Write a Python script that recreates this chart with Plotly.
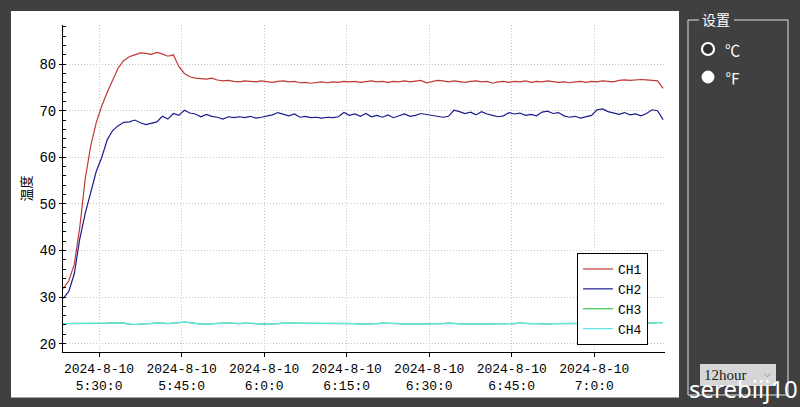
import pandas as pd
import plotly.graph_objects as go

# one sample per minute, 5:23:30 .. 7:12:30
times = pd.date_range("2024-08-10 05:23:30", periods=110, freq="1min")

ch1 = [31.8, 33.5, 37.0, 45.0, 55.5, 62.5, 67.5, 71.0, 74.0, 76.8,
       79.2, 80.8, 81.6, 82.0, 82.4, 82.3, 82.1, 82.5, 82.2, 81.7,
       82.0, 79.5, 78.0, 77.3, 77.0, 76.9, 76.8, 77.0, 76.6, 76.4,
       76.5, 76.3, 76.2, 76.4, 76.3, 76.2, 76.4, 76.3, 76.1, 76.3,
       76.4, 76.2, 76.3, 76.0, 76.1, 75.9, 76.1, 76.2, 76.0, 76.2,
       76.1, 76.3, 76.2, 76.3, 76.1, 76.2, 76.4, 76.2, 76.3, 76.1,
       76.3, 76.2, 76.4, 76.2, 76.3, 76.5, 76.0, 76.3, 76.5, 76.4,
       76.2, 76.4, 76.3, 76.1, 76.3, 76.4, 76.2, 76.3, 75.9, 76.2,
       76.3, 76.1, 76.3, 76.2, 76.4, 76.1, 76.3, 76.2, 76.4, 76.3,
       76.1, 76.2, 76.0, 76.2, 76.3, 76.1, 76.3, 76.2, 76.4, 76.3,
       76.2, 76.5, 76.6, 76.5, 76.6, 76.7, 76.6, 76.5, 76.4, 74.8]

ch2 = [29.7, 31.2, 35.0, 42.5, 48.0, 52.5, 57.0, 60.0, 63.8, 65.8,
       66.8, 67.5, 67.6, 68.0, 67.4, 67.0, 67.3, 67.6, 68.8, 68.2,
       69.4, 69.0, 70.1, 69.5, 69.3, 68.7, 69.2, 68.8, 68.6, 68.2,
       68.7, 68.5, 68.7, 68.5, 68.8, 68.4, 68.6, 68.9, 69.1, 69.6,
       69.2, 68.9, 69.3, 68.6, 68.8, 68.5, 68.6, 68.4, 68.6, 68.5,
       68.7, 69.6, 69.0, 69.3, 68.8, 69.4, 68.7, 69.0, 68.6, 69.1,
       68.5, 68.9, 69.3, 68.8, 69.0, 69.4, 69.2, 68.9, 68.7, 68.6,
       68.8, 70.1, 69.8, 69.4, 69.7, 69.1, 69.8, 69.3, 69.0, 68.7,
       68.9, 69.6, 69.3, 69.5, 69.0, 69.2, 68.9, 69.7, 69.9, 69.4,
       69.6, 68.9, 68.6, 68.8, 68.4, 68.7, 69.0, 70.2, 70.4, 69.8,
       69.5, 69.2, 69.6, 69.1, 69.3, 68.9, 69.4, 70.2, 70.0, 68.1]

# CH3 sits right under CH4 and is hidden by it
ch3 = [24.3, 24.3, 24.3, 24.3, 24.4, 24.4, 24.4, 24.3, 24.4, 24.5,
       24.5, 24.4, 24.2, 24.1, 24.2, 24.3, 24.4, 24.4, 24.4, 24.3,
       24.4, 24.5, 24.6, 24.5, 24.3, 24.2, 24.2, 24.3, 24.4, 24.4,
       24.4, 24.3, 24.3, 24.4, 24.4, 24.3, 24.2, 24.2, 24.3, 24.3,
       24.4, 24.4, 24.3, 24.3, 24.4, 24.4, 24.4, 24.3, 24.3, 24.3,
       24.3, 24.4, 24.4, 24.3, 24.2, 24.2, 24.3, 24.3, 24.4, 24.4,
       24.3, 24.3, 24.2, 24.2, 24.3, 24.3, 24.2, 24.2, 24.3, 24.3,
       24.4, 24.3, 24.3, 24.2, 24.2, 24.2, 24.3, 24.3, 24.3, 24.2,
       24.2, 24.3, 24.3, 24.4, 24.3, 24.3, 24.3, 24.2, 24.2, 24.3,
       24.3, 24.4, 24.4, 24.3, 24.3, 24.4, 24.4, 24.3, 24.3, 24.4,
       24.4, 24.3, 24.3, 24.4, 24.4, 24.5, 24.4, 24.4, 24.5, 24.5]
ch4 = [24.3, 24.3, 24.3, 24.3, 24.4, 24.4, 24.4, 24.3, 24.4, 24.5,
       24.5, 24.4, 24.2, 24.1, 24.2, 24.3, 24.4, 24.4, 24.4, 24.3,
       24.4, 24.5, 24.6, 24.5, 24.3, 24.2, 24.2, 24.3, 24.4, 24.4,
       24.4, 24.3, 24.3, 24.4, 24.4, 24.3, 24.2, 24.2, 24.3, 24.3,
       24.4, 24.4, 24.3, 24.3, 24.4, 24.4, 24.4, 24.3, 24.3, 24.3,
       24.3, 24.4, 24.4, 24.3, 24.2, 24.2, 24.3, 24.3, 24.4, 24.4,
       24.3, 24.3, 24.2, 24.2, 24.3, 24.3, 24.2, 24.2, 24.3, 24.3,
       24.4, 24.3, 24.3, 24.2, 24.2, 24.2, 24.3, 24.3, 24.3, 24.2,
       24.2, 24.3, 24.3, 24.4, 24.3, 24.3, 24.3, 24.2, 24.2, 24.3,
       24.3, 24.4, 24.4, 24.3, 24.3, 24.4, 24.4, 24.3, 24.3, 24.4,
       24.4, 24.3, 24.3, 24.4, 24.4, 24.5, 24.4, 24.4, 24.5, 24.5]

names = ["CH1", "CH2", "CH3", "CH4"]
colors = ["#c03838", "#1c1c8e", "#3cbf4a", "#5ce4e4"]

tick_times = ["2024-08-10 05:30", "2024-08-10 05:45", "2024-08-10 06:00",
              "2024-08-10 06:15", "2024-08-10 06:30", "2024-08-10 06:45",
              "2024-08-10 07:00"]
tick_text = ["2024-8-10<br>5:30:0", "2024-8-10<br>5:45:0", "2024-8-10<br>6:0:0",
             "2024-8-10<br>6:15:0", "2024-8-10<br>6:30:0", "2024-8-10<br>6:45:0",
             "2024-8-10<br>7:0:0"]

W, H = 800, 407
L, R, T, B = 63, 135, 25, 55
BG = "#404040"
MONO = "Liberation Mono"
CJK = "Noto Sans CJK SC"
GRID = "#c4c4c4"

def fx(p):
    return (p - L) / (W - L - R)

def fy(p):
    return (H - B - p) / (H - T - B)

def label(text, x, y, size, color, family, xanchor="center", yanchor="middle"):
    return dict(text=text, x=fx(x), y=fy(y), xref="paper", yref="paper",
                xanchor=xanchor, yanchor=yanchor, showarrow=False,
                font=dict(family=family, size=size, color=color))

fig = go.Figure()
for i, (name, ys) in enumerate(zip(names, [ch1, ch2, ch3, ch4])):
    fig.add_trace(go.Scatter(x=times, y=ys, name=name, mode="lines",
                             line=dict(color=colors[i], width=1.2)))

shapes = [
    # white chart panel
    dict(type="rect", xref="paper", yref="paper", layer="below",
         x0=fx(11), x1=fx(679), y0=fy(397.5), y1=fy(11),
         fillcolor="white", line=dict(width=0)),
]
# group box "设置"
for seg in [(688, 20, 699, 20), (734, 20, 788, 20), (688, 20, 688, 395),
            (788, 20, 788, 395), (688, 395, 788, 395)]:
    shapes.append(dict(type="line", xref="paper", yref="paper",
                       x0=fx(seg[0]), y0=fy(seg[1]), x1=fx(seg[2]), y1=fy(seg[3]),
                       line=dict(color="#e0e0e0", width=1)))
# radio buttons
shapes.append(dict(type="circle", xref="paper", yref="paper",
                   x0=fx(702), x1=fx(714), y0=fy(55), y1=fy(43),
                   fillcolor="#303030", line=dict(color="white", width=2.2)))
shapes.append(dict(type="circle", xref="paper", yref="paper",
                   x0=fx(702), x1=fx(714), y0=fy(83), y1=fy(71),
                   fillcolor="white", line=dict(color="white", width=1)))
# combobox
shapes.append(dict(type="rect", xref="paper", yref="paper",
                   x0=fx(700), x1=fx(776), y0=fy(386), y1=fy(364),
                   fillcolor="#d6d6d6", line=dict(width=0)))

annotations = [
    label("设置", 716, 19, 14, "white", CJK),
    label("℃", 723, 49, 15, "white", CJK, xanchor="left"),
    label("℉", 723, 77, 15, "white", CJK, xanchor="left"),
    label("12hour", 702, 375, 15, "#202020", "Liberation Serif", xanchor="left"),
    label("⌵", 767, 374, 9, "#606060", "DejaVu Sans"),
    label("serebiij10", 800, 407, 24, "white", "Noto Sans",
          xanchor="right", yanchor="bottom"),
]

fig.update_layout(
    width=W, height=H,
    margin=dict(l=L, r=R, t=T, b=B, autoexpand=False),
    paper_bgcolor=BG, plot_bgcolor="white",
    font=dict(family=MONO, size=13, color="black"),
    shapes=shapes, annotations=annotations,
    showlegend=True,
    legend=dict(x=fx(577), y=fy(253), xanchor="left", yanchor="top",
                bgcolor="white", bordercolor="black", borderwidth=1,
                font=dict(family=MONO, size=13, color="black"),
                itemwidth=30),
    xaxis=dict(type="date", automargin=False,
               range=["2024-08-10 05:23:27", "2024-08-10 07:12:51"],
               tickmode="array", tickvals=tick_times, ticktext=tick_text,
               showline=True, linecolor="black", linewidth=1,
               ticks="outside", ticklen=4, tickcolor="black",
               showgrid=True, gridcolor=GRID, griddash="1px,2px", gridwidth=1,
               zeroline=False, tickfont=dict(family=MONO, size=13)),
    yaxis=dict(range=[18.2, 88.4], tickmode="array", automargin=False,
               tickvals=[20, 30, 40, 50, 60, 70, 80],
               showline=True, linecolor="black", linewidth=1,
               ticks="outside", ticklen=3, tickcolor="black",
               minor=dict(dtick=2, ticks="inside", ticklen=3, tickcolor="black",
                          showgrid=False),
               showgrid=True, gridcolor=GRID, griddash="1px,2px", gridwidth=1,
               zeroline=False, tickfont=dict(family=MONO, size=14),
               title=dict(text="温度", standoff=4,
                          font=dict(family=CJK, size=13, color="black"))),
)

# the page body has a default 8px margin; drop it so the figure sits at 0,0
fig.write_html("out.html", config={"displayModeBar": False},
               post_script="document.body.style.margin='0';"
                           "document.body.style.background='%s';" % BG)
